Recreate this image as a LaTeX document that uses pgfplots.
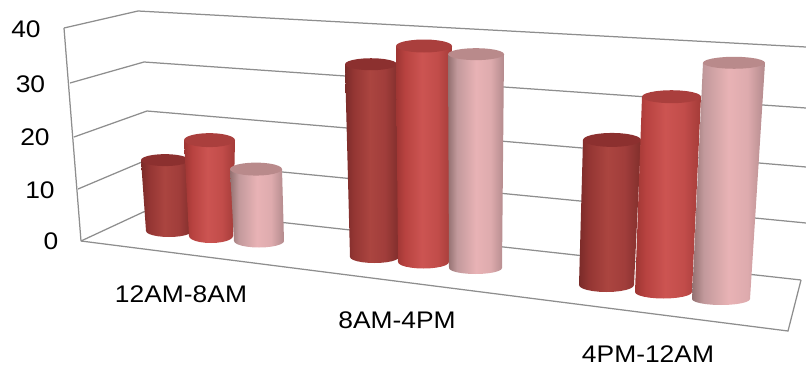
\documentclass[border=0pt]{standalone}
\usepackage{pgfplots}
\usepackage{pgfplotstable}
\usepackage{fontspec}
\setmainfont[FakeStretch=1.1]{Liberation Sans}
\pgfplotsset{compat=1.18}

% Cylinder colours: side shadings run dark edge, bright core, dark edge
\pgfdeclarehorizontalshading{cylA}{100bp}{rgb(0bp)=(0.48,0.17,0.16);
  rgb(25bp)=(0.48,0.17,0.16); rgb(33bp)=(0.58,0.21,0.20);
  rgb(48bp)=(0.67,0.27,0.25); rgb(62bp)=(0.63,0.24,0.23);
  rgb(75bp)=(0.50,0.18,0.17); rgb(100bp)=(0.50,0.18,0.17)}
\pgfdeclarehorizontalshading{cylB}{100bp}{rgb(0bp)=(0.62,0.21,0.20);
  rgb(25bp)=(0.62,0.21,0.20); rgb(33bp)=(0.72,0.26,0.25);
  rgb(48bp)=(0.80,0.33,0.32); rgb(62bp)=(0.76,0.30,0.29);
  rgb(75bp)=(0.64,0.23,0.22); rgb(100bp)=(0.64,0.23,0.22)}
\pgfdeclarehorizontalshading{cylC}{100bp}{rgb(0bp)=(0.58,0.44,0.44);
  rgb(25bp)=(0.58,0.44,0.44); rgb(33bp)=(0.76,0.60,0.61);
  rgb(50bp)=(0.91,0.70,0.71); rgb(63bp)=(0.87,0.67,0.68);
  rgb(75bp)=(0.70,0.54,0.55); rgb(100bp)=(0.70,0.54,0.55)}
\definecolor{topA}{HTML}{8C302F}
\definecolor{topB}{HTML}{AA3F3D}
\definecolor{topC}{HTML}{B98A8B}
\definecolor{gridgray}{HTML}{8E8E8E}

% Unit outlines: s=0 is the cap plane, s=1 the base plane
\pgfplotstableread{
s u v
0 -1 0
1 -1 0
1 -0.966 0.259
1 -0.866 0.5
1 -0.707 0.707
1 -0.5 0.866
1 -0.259 0.966
1 0 1
1 0.259 0.966
1 0.5 0.866
1 0.707 0.707
1 0.866 0.5
1 0.966 0.259
1 1 0
0 1 0
}\sidetable
\pgfplotstableread{
u v
1 0
0.966 0.259
0.866 0.5
0.707 0.707
0.5 0.866
0.259 0.966
0 1
-0.259 0.966
-0.5 0.866
-0.707 0.707
-0.866 0.5
-0.966 0.259
-1 0
-0.966 -0.259
-0.866 -0.5
-0.707 -0.707
-0.5 -0.866
-0.259 -0.966
0 -1
0.259 -0.966
0.5 -0.866
0.707 -0.707
0.866 -0.5
0.966 -0.259
}\captable

% #1 value, #2-#3 cap left/right, #4-#5 base left/right, #6 base y, #7 ellipse semi-height, #8 series
\newcommand{\cyl}[8]{%
  \addplot[draw=none,no markers,shading=cyl#8] table[
    x expr={(1-\thisrow{s})*((#2+#3)/2+(#3-#2)/2*\thisrow{u})+\thisrow{s}*((#4+#5)/2+(#5-#4)/2*\thisrow{u})},
    y expr={(1-\thisrow{s})*(#6-#1*\pxperunit)+\thisrow{s}*#6+#7*\thisrow{v}}
  ] {\sidetable} -- cycle;
  \addplot[draw=none,no markers,fill=top#8] table[
    x expr={(#2+#3)/2+(#3-#2)/2*\thisrow{u}},
    y expr={#6-#1*\pxperunit+#7*\thisrow{v}}
  ] {\captable} -- cycle;
}

\begin{document}
\begin{tikzpicture}
\useasboundingbox (0,0) rectangle (806pt,367pt);
\begin{axis}[
  at={(0,0)}, anchor=south west,
  scale only axis, width=806pt, height=367pt,
  xmin=0, xmax=806, ymin=0, ymax=367, y dir=reverse,
  hide axis, clip=true,
  gridline/.style={color=gridgray,line width=1.25pt,no markers},
]
% Walls and floor
\addplot[gridline] coordinates {(64,28) (138,11) (806,47)};
\addplot[gridline] coordinates {(70,83) (144,62) (806,108)};
\addplot[gridline] coordinates {(74,137) (147,111) (806,167)};
\addplot[gridline] coordinates {(78,189) (149,159) (806,223)};
\addplot[gridline] coordinates {(81,241) (152,208) (801,280)};
\addplot[gridline] coordinates {(64,28) (81,241)};
\addplot[gridline] coordinates {(81,241) (788,331) (801,280)};

% 12AM-8AM
\def\pxperunit{5.1}
\cyl{13.9}{141}{189}{146}{192}{231}{6}{A}
\cyl{18.8}{184}{235}{189}{233}{236}{7}{B}
\cyl{14.1}{230}{282}{234}{284}{241}{6.5}{C}
% 8AM-4PM
\def\pxperunit{5.4}
\cyl{35.7}{345}{397}{350}{399}{257}{6}{A}
\cyl{40}{396}{452}{398}{449}{262}{6.5}{B}
\cyl{39.6}{448}{504}{449}{502}{268}{6}{C}
% 4PM-12AM
\def\pxperunit{6.2}
\cyl{23.4}{583}{641}{579}{634}{285}{7}{A}
\cyl{31.5}{642}{701}{635}{692}{292}{6.5}{B}
\cyl{38.1}{703}{765}{692}{750}{299}{6}{C}

% Value scale and category names
\begin{scope}[every node/.style={font=\fontsize{24}{28}\selectfont,text=black,inner sep=0pt}]
\node at (axis cs:26,29) {40};
\node at (axis cs:30.5,84) {30};
\node at (axis cs:35,137) {20};
\node at (axis cs:40,190) {10};
\node at (axis cs:51,241) {0};
\node at (axis cs:181,294) {12AM-8AM};
\node at (axis cs:397,320) {8AM-4PM};
\node at (axis cs:648,354) {4PM-12AM};
\end{scope}
\end{axis}
\end{tikzpicture}
\end{document}
